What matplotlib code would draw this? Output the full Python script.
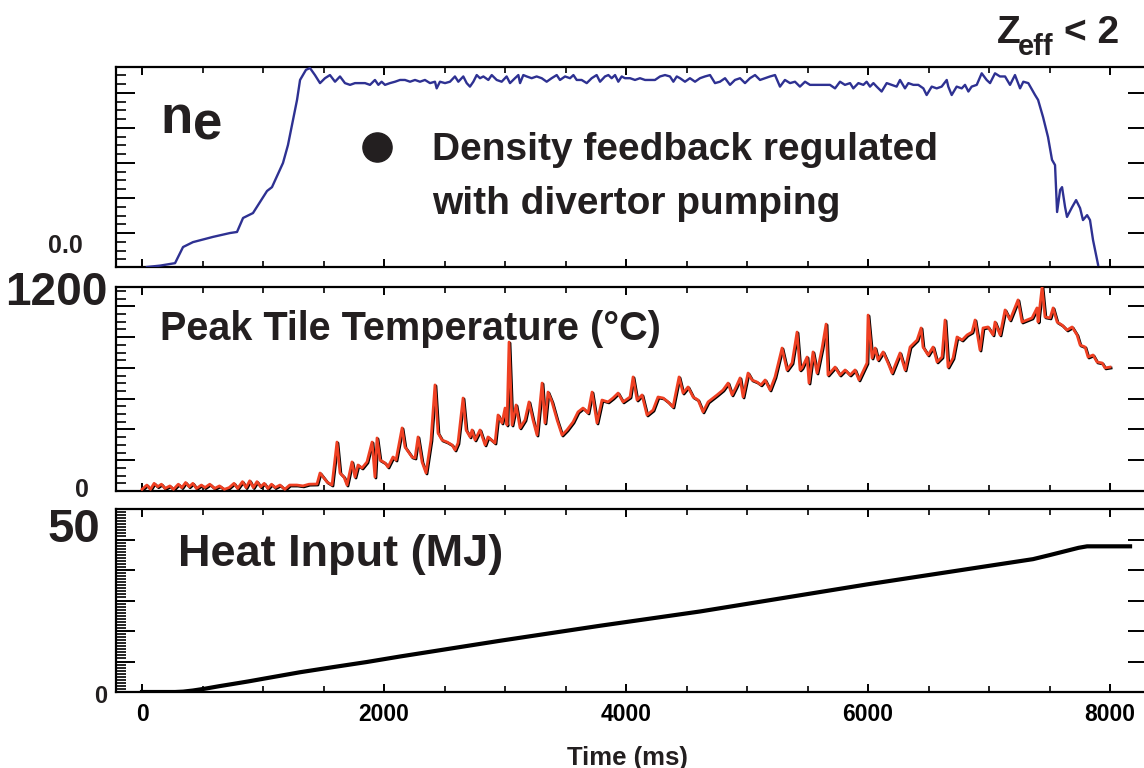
import numpy as np
import matplotlib
matplotlib.use("Agg")
import matplotlib.pyplot as plt
from matplotlib.ticker import MultipleLocator, AutoMinorLocator, FixedLocator
import matplotlib.transforms as mtransforms

plt.rcParams['font.family'] = ['Liberation Sans', 'DejaVu Sans']
plt.rcParams['font.weight'] = 'bold'

# ---- data ----
# electron density, arbitrary units (0.0 marked on axis)
ne_t = [41, 150, 273, 339, 421, 587, 727, 785, 835, 917, 1033, 1074, 1165, 1206, 1248, 1281, 1306, 1355, 1388,
        1429, 1471, 1512, 1553, 1595, 1636, 1677, 1719, 1760, 1801, 1843, 1884, 1925, 1953, 1980, 2008, 2049,
        2091, 2132, 2173, 2215, 2256, 2297, 2338, 2380, 2421, 2435, 2462, 2504, 2545, 2586, 2614, 2655, 2683,
        2710, 2738, 2766, 2793, 2821, 2862, 2890, 2931, 2972, 3013, 3041, 3082, 3110, 3124, 3151, 3179, 3220,
        3261, 3303, 3344, 3385, 3427, 3454, 3496, 3537, 3565, 3592, 3633, 3675, 3716, 3757, 3785, 3826, 3854,
        3881, 3909, 3936, 3964, 3991, 4033, 4074, 4115, 4157, 4198, 4239, 4281, 4322, 4363, 4391, 4419,
        4446, 4487, 4528, 4570, 4611, 4652, 4694, 4735, 4776, 4818, 4859, 4900, 4942, 4983, 5024, 5066, 5107,
        5148, 5190, 5231, 5272, 5313, 5355, 5396, 5437, 5479, 5520, 5561, 5603, 5644, 5685, 5727, 5768, 5809,
        5851, 5878, 5920, 5961, 5988, 6016, 6044, 6071, 6112, 6154, 6195, 6236, 6264, 6305, 6333, 6374, 6415,
        6457, 6484, 6526, 6567, 6608, 6650, 6663, 6691, 6732, 6774, 6801, 6829, 6856, 6898, 6939, 6980, 7008,
        7049, 7090, 7132, 7173, 7214, 7256, 7283, 7324,
        7380, 7405, 7446, 7487, 7520, 7545, 7562, 7587, 7603, 7628, 7644, 7686, 7719, 7752, 7776, 7810, 7834,
        7859, 7901]
ne_v = [-0.97, -0.93, -0.86, -0.40, -0.26, -0.11, 0.0, 0.03, 0.43, 0.57, 1.20, 1.31, 2.0, 2.51, 3.23, 3.80, 4.37, 4.66, 4.71,
        4.51, 4.28, 4.42, 4.51, 4.32, 4.47, 4.28, 4.23, 4.28, 4.28, 4.28, 4.23, 4.37, 4.23, 4.32, 4.23, 4.28,
        4.32, 4.37, 4.37, 4.32, 4.37, 4.32, 4.37, 4.28, 4.32, 4.13, 4.32, 4.28, 4.32, 4.47, 4.32, 4.47, 4.28,
        4.18, 4.32, 4.51, 4.42, 4.47, 4.37, 4.51, 4.37, 4.32, 4.47, 4.28, 4.42, 4.51, 4.28, 4.51, 4.47, 4.42,
        4.47, 4.42, 4.32, 4.42, 4.51, 4.37, 4.47, 4.42, 4.51, 4.37, 4.37, 4.28, 4.42, 4.51, 4.32, 4.47, 4.51,
        4.42, 4.51, 4.32, 4.47, 4.42, 4.42, 4.37, 4.42, 4.37, 4.37, 4.37, 4.47, 4.51, 4.47, 4.32, 4.47,
        4.42, 4.32, 4.42, 4.32, 4.42, 4.47, 4.51, 4.28, 4.32, 4.42, 4.23, 4.37, 4.42, 4.28, 4.42, 4.51, 4.37,
        4.42, 4.47, 4.51, 4.18, 4.37, 4.28, 4.32, 4.18, 4.32, 4.23, 4.23, 4.23, 4.23, 4.23, 4.13, 4.32, 4.23,
        4.28, 4.13, 4.28, 4.23, 4.32, 4.18, 4.28, 4.18, 4.04, 4.28, 4.23, 4.18, 4.37, 4.13, 4.28, 4.23, 4.23,
        4.13, 3.94, 4.18, 4.13, 4.18, 4.37, 4.18, 3.94, 4.18, 4.13, 4.23, 4.04, 4.18, 4.23, 4.56, 4.37, 4.28,
        4.56, 4.47, 4.47, 4.23, 4.51, 4.13, 4.32, 4.28,
        3.94, 3.80, 3.31, 2.74, 2.09, 1.94, 0.60, 1.23, 1.31, 0.74, 0.46, 0.74, 0.94, 0.71, 0.37, 0.51, 0.37,
        -0.2, -0.91]

# peak tile temperature (deg C)
temp_t = [0, 40, 70, 100, 130, 160, 190, 230, 260, 300, 330, 360, 390, 420, 450, 490, 520, 560, 600, 640,
          680, 720, 760, 790, 830, 860, 890, 920, 950, 980, 1010, 1040, 1070, 1100, 1140, 1180, 1220, 1280,
          1330, 1380,
          1446, 1471, 1529, 1570, 1611, 1636, 1669, 1694, 1735, 1760, 1785, 1818, 1859, 1901, 1925, 1942,
          1967, 2008, 2033, 2074, 2099, 2149, 2173, 2231, 2256, 2281, 2314, 2347, 2388, 2421, 2446, 2479,
          2521, 2562, 2587, 2611, 2653, 2678, 2711, 2727, 2752, 2793, 2835, 2859, 2917, 2942, 2975, 3000,
          3016, 3033, 3058, 3091, 3124, 3165, 3198, 3231, 3264, 3306, 3330, 3355, 3388, 3430, 3471, 3512,
          3562, 3603, 3644, 3686, 3719, 3760, 3801, 3851, 3892, 3934, 3975, 4033, 4058, 4091, 4132, 4173,
          4223, 4264, 4306, 4347, 4388, 4438, 4471, 4512, 4554, 4595, 4636, 4678, 4752, 4801, 4843, 4876,
          4909, 4942, 4967, 5008, 5041, 5082, 5115, 5149, 5190, 5231, 5289, 5330, 5372, 5413, 5438, 5454,
          5496, 5512, 5545, 5578, 5620, 5653, 5669, 5727, 5768, 5810, 5851, 5892, 5925, 5991, 6000, 6033,
          6058, 6082, 6124, 6165, 6198, 6231, 6264, 6306, 6347, 6405, 6438, 6454, 6496, 6537, 6570, 6611,
          6636, 6661, 6702, 6735, 6777, 6818, 6859, 6884, 6925, 6950, 6991, 7033, 7049, 7091, 7132, 7173,
          7239, 7272, 7314, 7355, 7396, 7405, 7438, 7462, 7504, 7529, 7562, 7603, 7644, 7686, 7727, 7752,
          7793, 7818, 7859, 7892, 7934, 7958, 8000]
temp_v = [10, 35, 10, 45, 25, 40, 15, 30, 10, 40, 20, 50, 25, 45, 15, 35, 20, 40, 15, 30,
          10, 20, 45, 15, 55, 20, 60, 20, 55, 25, 45, 15, 40, 20, 35, 10, 35, 35,
          30, 40,
          41, 106, 53, 35, 288, 106, 82, 35, 171, 82, 153, 135, 171, 288, 82, 312,
          182, 165, 141, 200, 182, 371, 259, 200, 194, 318, 171, 106, 300, 624, 341, 300,
          288, 271, 241, 282, 547, 359, 318, 359, 300, 359, 271, 318, 282, 447, 400, 488,
          388, 876, 388, 506, 371, 418, 524, 418, 329, 635, 400, 582, 524, 418, 329, 359,
          406, 465, 488, 459, 582, 400, 535, 524, 547, 576, 524, 553, 671, 535, 565, 447,
          476, 553, 547, 524, 494, 671, 576, 612, 553, 535, 465, 524, 565, 594, 635, 565,
          612, 665, 553, 694, 653, 641, 624, 653, 594, 671, 841, 712, 753, 935, 712, 724,
          788, 635, 818, 694, 841, 982, 682, 729, 682, 712, 682, 712, 653, 753, 1035, 782,
          841, 771, 818, 753, 694, 753, 812, 712, 847, 888, 959, 847, 800, 847, 759, 788,
          1006, 729, 782, 906, 888, 918, 935, 1006, 829, 959, 965, 918, 994, 918, 1065, 1006,
          1124, 994, 1006, 1018, 1077, 994, 1200, 1024, 1018, 1077, 994, 976, 947, 965, 918, 859,
          847, 788, 800, 759, 753, 724, 729]

# cumulative heat input (MJ)
heat_t = [0, 273, 340, 420, 520, 640, 752, 880, 1033, 1306, 1579, 1859, 2132, 2959, 3785, 4611, 5992,
          7363, 7500, 7644, 7740, 7810, 8165]
heat_v = [0, 0, 0.1, 0.4, 0.9, 1.6, 2.2, 2.9, 3.8, 5.4, 6.8, 8.2, 9.7, 14.0, 18.1, 22.0, 29.4,
          36.3, 37.4, 38.6, 39.4, 39.8, 39.8]

xticks = [0, 2000, 4000, 6000, 8000]

# ---- figure ----
W, H = 1144, 768
fig = plt.figure(figsize=(W / 100, H / 100), dpi=100)


def px(x, y):
    return x / W, 1 - y / H


left = 116 / W
width = (1147 - 116) / W
ax1 = fig.add_axes([left, 1 - 267 / H, width, 200 / H])
ax2 = fig.add_axes([left, 1 - 491 / H, width, 204 / H])
ax3 = fig.add_axes([left, 1 - 692 / H, width, 183 / H])

ax1.plot(ne_t, ne_v, color='#2e3192', lw=1.7, zorder=3)

shadow = mtransforms.offset_copy(ax2.transData, fig=fig, x=0.7, y=-0.7, units='points')
ax2.plot(temp_t, temp_v, color='black', lw=2.0, transform=shadow, zorder=2)
ax2.plot(temp_t, temp_v, color='#ef4023', lw=2.0, zorder=3)

ax3.plot(heat_t, heat_v, color='black', lw=3.0)

ax1.set_ylim(-0.97, 4.74)
ax2.set_ylim(0, 1200)
ax3.set_ylim(0, 50)
ax1.yaxis.set_major_locator(MultipleLocator(1))
ax1.yaxis.set_minor_locator(AutoMinorLocator(4))
ax2.yaxis.set_major_locator(MultipleLocator(181))
ax2.yaxis.set_minor_locator(AutoMinorLocator(4))
ax3.yaxis.set_major_locator(MultipleLocator(50 / 6))
ax3.yaxis.set_minor_locator(AutoMinorLocator(10))

for ax in (ax1, ax2, ax3):
    ax.set_xlim(-215, 8305)
    ax.xaxis.set_major_locator(FixedLocator(xticks))
    ax.xaxis.set_minor_locator(MultipleLocator(500))
    for s in ax.spines.values():
        s.set_linewidth(1.6)
    ax.tick_params(axis='x', which='major', direction='in', top=True, bottom=True,
                   length=6, width=1.4)
    ax.tick_params(axis='x', which='minor', direction='in', top=True, bottom=True,
                   length=4, width=1.2)
    ax.tick_params(axis='y', which='major', direction='in', left=True, right=True,
                   length=14, width=1.4)
    ax.tick_params(axis='y', which='minor', direction='in', left=True, right=False,
                   length=7, width=1.2)
    ax.set_yticklabels([])
    ax.tick_params(axis='x', labelbottom=False)

ax3.tick_params(axis='x', labelbottom=True, labelsize=16.5, pad=8)
ax3.set_xticklabels([str(v) for v in xticks], fontweight='bold')

# ---- text ----
big = dict(fontweight='bold', color='#231f20')
fig.text(*px(160, 133), 'n', fontsize=38, va='baseline', **big)
fig.text(*px(193, 140), 'e', fontsize=38, va='baseline', **big)

fig.text(*px(997, 43), 'Z', fontsize=28, va='baseline', **big)
fig.text(*px(1018, 55), 'eff', fontsize=21, va='baseline', **big)
fig.text(*px(1064, 43), '< 2', fontsize=28, va='baseline', **big)

fig.text(*px(432, 160), 'Density feedback regulated', fontsize=28, va='baseline', **big)
fig.text(*px(432, 214), 'with divertor pumping', fontsize=28, va='baseline', **big)
fig.lines.append(plt.Line2D([377 / W], [1 - 147 / H], marker='o', markersize=21,
                            color='#231f20', transform=fig.transFigure, figure=fig))

fig.text(*px(160, 340), 'Peak Tile Temperature (°C)', fontsize=28.5, va='baseline', **big)
fig.text(*px(178, 566), 'Heat Input (MJ)', fontsize=32.5, va='baseline', **big)
fig.text(*px(627, 765), 'Time (ms)', fontsize=18.5, ha='center', va='baseline', **big)

fig.text(*px(83, 253), '0.0', fontsize=18, ha='right', va='baseline', **big)
fig.text(*px(108, 305), '1200', fontsize=33, ha='right', va='baseline', **big)
fig.text(*px(89, 497), '0', fontsize=18, ha='right', va='baseline', **big)
fig.text(*px(100, 542), '50', fontsize=34, ha='right', va='baseline', **big)
fig.text(*px(107, 703), '0', fontsize=17, ha='right', va='baseline', **big)

fig.savefig('out.png', dpi=100)
